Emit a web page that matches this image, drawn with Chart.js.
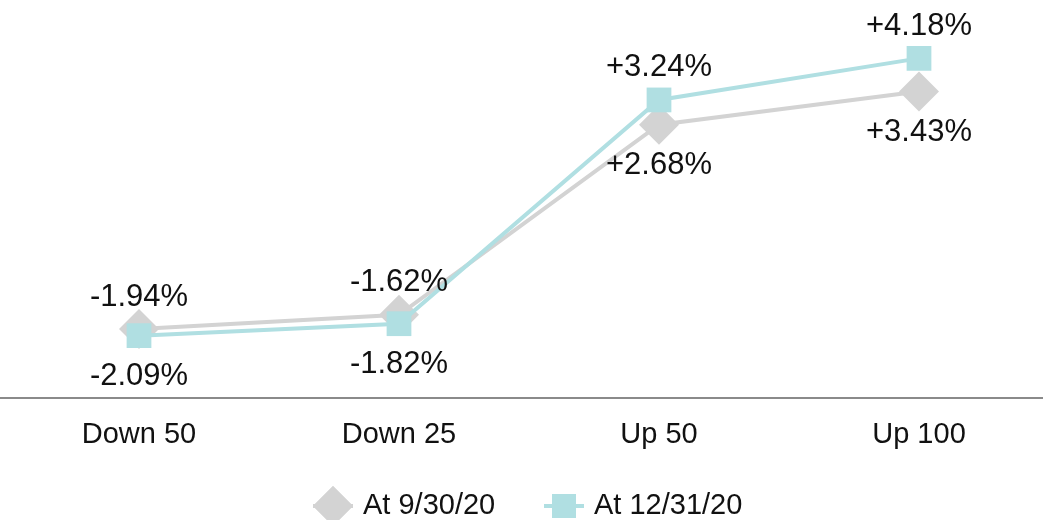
<!DOCTYPE html>
<html>
<head>
<meta charset="utf-8">
<script src="https://cdn.jsdelivr.net/npm/chart.js@4"></script>
<style>
  html, body { margin: 0; padding: 0; background: #fff; overflow: hidden; }
  #wrap { width: 1049px; height: 520px; }
</style>
</head>
<body>
<div id="wrap"><canvas id="rateChart"></canvas></div>
<script>
const categories = ['Down 50', 'Down 25', 'Up 50', 'Up 100'];
const sept = [-1.94, -1.62, 2.68, 3.43];
const dec = [-2.09, -1.82, 3.24, 4.18];
const seriesNames = ['At 9/30/20', 'At 12/31/20'];

const GRAY = '#d3d3d3';
const TEAL = '#b0dfe2';
const FONT = '"Liberation Sans", Arial, sans-serif';

const fmt = v => (v > 0 ? '+' : '') + v.toFixed(2) + '%';

// value labels: gray above on the down side, below on the up side; teal the other way
const labelPlugin = {
  id: 'valueLabels',
  afterDatasetsDraw(chart) {
    const ctx = chart.ctx;
    ctx.save();
    ctx.font = '31px ' + FONT;
    ctx.fillStyle = '#111';
    ctx.textAlign = 'center';
    ctx.textBaseline = 'middle';
    chart.data.datasets.forEach((ds, di) => {
      chart.getDatasetMeta(di).data.forEach((pt, i) => {
        const v = ds.data[i];
        let above = di === 0 ? v < 0 : v > 0;
        const dy = above ? -32 : 41;
        ctx.fillText(fmt(v), pt.x, pt.y + dy);
      });
    });
    ctx.restore();
  },
  afterDraw(chart) {
    const ctx = chart.ctx;
    const area = chart.chartArea;
    ctx.save();
    // axis line across the full width
    ctx.strokeStyle = '#8a8a8a';
    ctx.lineWidth = 2;
    ctx.beginPath();
    ctx.moveTo(0, area.bottom);
    ctx.lineTo(chart.width, area.bottom);
    ctx.stroke();

    // legend
    const y = 506;
    const items = [
      { x: 333, color: GRAY, style: 'rectRot', r: 20, text: seriesNames[0] },
      { x: 564, color: TEAL, style: 'rect', r: 17, text: seriesNames[1] }
    ];
    items.forEach(it => {
      ctx.strokeStyle = it.color;
      ctx.lineWidth = 4;
      ctx.beginPath();
      ctx.moveTo(it.x - 20, y);
      ctx.lineTo(it.x + 20, y);
      ctx.stroke();
      ctx.fillStyle = it.color;
      Chart.helpers.drawPoint(ctx, { pointStyle: it.style, radius: it.r, borderWidth: 0 }, it.x, y);
      ctx.fill();
      ctx.fillStyle = '#111';
      ctx.font = '29px ' + FONT;
      ctx.textAlign = 'left';
      ctx.textBaseline = 'middle';
      ctx.fillText(it.text, it.x + 30, y);
    });
    ctx.restore();
  }
};

new Chart(document.getElementById('rateChart'), {
  type: 'line',
  data: {
    labels: categories,
    datasets: [
      {
        label: seriesNames[0],
        data: sept,
        borderColor: GRAY,
        backgroundColor: GRAY,
        borderWidth: 4,
        pointStyle: 'rectRot',
        pointRadius: 20,
        pointHoverRadius: 20,
        pointBorderWidth: 0,
        order: 1
      },
      {
        label: seriesNames[1],
        data: dec,
        borderColor: TEAL,
        backgroundColor: TEAL,
        borderWidth: 4,
        pointStyle: 'rect',
        pointRadius: 17.5,
        pointHoverRadius: 17.5,
        pointBorderWidth: 0,
        order: 0
      }
    ]
  },
  options: {
    responsive: true,
    maintainAspectRatio: false,
    animation: false,
    layout: { autoPadding: false, padding: { left: 9, right: 0, top: 0, bottom: 0 } },
    plugins: {
      legend: { display: false },
      tooltip: { enabled: false }
    },
    scales: {
      x: {
        offset: true,
        grid: { display: false, drawTicks: false },
        border: { display: false },
        ticks: {
          color: '#111',
          padding: 20,
          font: { family: FONT, size: 29 }
        },
        afterFit: s => { s.height = 122; }
      },
      y: {
        display: false,
        min: -3.5,
        max: 5.5
      }
    }
  },
  plugins: [labelPlugin]
});
</script>
</body>
</html>
